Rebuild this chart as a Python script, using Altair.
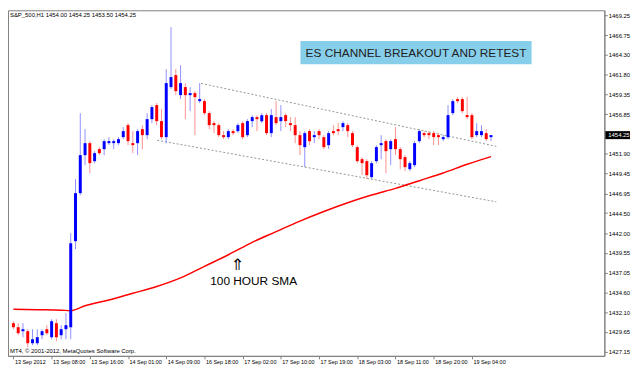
import altair as alt
import pandas as pd

# ---------------- data ----------------
bar = list(range(101))
open_ = [1430.75, 1430.25, 1429.75, 1429.75, 1428.25, 1428.25, 1429.25, 1430.00, 1429.00, 1430.75,
         1429.25, 1430.00, 1430.25, 1441.00, 1447.00, 1451.75, 1453.25, 1451.00, 1452.50, 1452.50,
         1453.25, 1453.25, 1453.25, 1454.00, 1455.50, 1453.25, 1453.25, 1455.00, 1454.25, 1456.25,
         1458.00, 1456.00, 1454.00, 1460.25, 1461.75, 1459.25, 1460.25, 1459.25, 1459.50, 1458.50,
         1458.50, 1457.00, 1455.75, 1455.50, 1454.25, 1454.00, 1454.75, 1454.75, 1455.75, 1454.25,
         1456.00, 1456.50, 1456.00, 1456.75, 1454.50, 1456.50, 1456.00, 1456.75, 1455.75, 1455.50,
         1454.25, 1452.75, 1454.75, 1454.00, 1454.75, 1454.00, 1453.00, 1454.75, 1455.00, 1455.25,
         1455.50, 1454.50, 1452.75, 1451.25, 1451.00, 1449.00, 1451.00, 1453.00, 1453.50, 1452.50,
         1453.75, 1452.50, 1451.50, 1450.00, 1450.50, 1453.50, 1454.50, 1454.50, 1454.50, 1454.25,
         1453.75, 1454.00, 1457.00, 1458.75, 1458.75, 1456.75, 1456.75, 1454.25, 1454.25, 1454.50,
         1454.00]
high = [1431.00, 1430.75, 1430.75, 1430.00, 1430.00, 1430.00, 1430.00, 1430.50, 1431.25, 1431.25,
        1430.50, 1432.00, 1442.00, 1448.75, 1457.00, 1455.00, 1453.50, 1452.25, 1452.75, 1453.75,
        1454.00, 1453.75, 1454.00, 1455.25, 1455.75, 1454.75, 1455.00, 1455.50, 1457.00, 1458.00,
        1458.25, 1457.50, 1462.50, 1467.75, 1462.50, 1463.00, 1460.75, 1460.25, 1459.75, 1460.75,
        1458.75, 1457.25, 1456.00, 1455.75, 1454.75, 1455.00, 1455.00, 1455.75, 1456.00, 1456.25,
        1456.75, 1456.75, 1457.00, 1457.00, 1457.50, 1458.50, 1458.00, 1457.00, 1456.50, 1456.50,
        1454.75, 1454.75, 1455.00, 1454.75, 1455.00, 1454.25, 1454.75, 1455.50, 1455.75, 1456.00,
        1455.75, 1454.75, 1453.00, 1451.50, 1451.25, 1451.00, 1453.00, 1454.25, 1453.75, 1453.75,
        1455.25, 1452.75, 1451.75, 1451.00, 1453.50, 1455.00, 1454.75, 1454.75, 1454.75, 1454.50,
        1454.25, 1458.00, 1458.75, 1459.00, 1459.00, 1459.00, 1457.00, 1455.75, 1455.50, 1455.00,
        1454.25]
low = [1430.00, 1429.25, 1429.00, 1427.75, 1428.00, 1428.00, 1428.75, 1429.25, 1428.75, 1428.50,
       1428.75, 1428.75, 1428.75, 1440.00, 1446.75, 1450.50, 1449.50, 1450.75, 1451.75, 1451.75,
       1453.00, 1452.50, 1453.00, 1453.75, 1453.00, 1452.00, 1451.75, 1452.50, 1453.75, 1455.75,
       1455.50, 1453.75, 1453.25, 1460.00, 1459.25, 1458.75, 1456.25, 1457.25, 1454.25, 1458.25,
       1456.75, 1455.00, 1454.50, 1454.00, 1453.75, 1453.75, 1454.25, 1454.50, 1453.75, 1454.00,
       1455.25, 1454.75, 1455.75, 1454.25, 1454.00, 1455.50, 1454.75, 1455.25, 1454.75, 1453.25,
       1451.75, 1450.25, 1453.00, 1453.25, 1453.75, 1452.50, 1452.50, 1454.25, 1454.25, 1454.75,
       1454.00, 1452.75, 1450.75, 1449.25, 1448.75, 1448.75, 1450.75, 1451.25, 1449.50, 1450.50,
       1451.75, 1450.00, 1449.75, 1449.75, 1450.25, 1453.25, 1454.00, 1453.75, 1453.00, 1453.00,
       1453.50, 1453.75, 1456.75, 1458.25, 1457.00, 1456.25, 1453.75, 1454.00, 1454.00, 1453.50,
       1453.50]
close = [1430.25, 1429.50, 1430.00, 1428.25, 1428.75, 1429.00, 1429.75, 1429.50, 1431.00, 1429.00,
         1430.00, 1430.50, 1440.75, 1447.00, 1451.75, 1453.25, 1450.75, 1452.00, 1452.00, 1453.50,
         1453.50, 1453.50, 1453.75, 1454.75, 1453.50, 1453.00, 1454.75, 1454.25, 1456.25, 1457.75,
         1456.00, 1454.00, 1460.75, 1461.50, 1459.75, 1460.75, 1459.25, 1459.50, 1459.00, 1458.75,
         1457.00, 1455.50, 1455.50, 1454.25, 1454.00, 1454.75, 1454.50, 1455.50, 1454.00, 1456.00,
         1456.50, 1456.25, 1456.75, 1454.50, 1456.75, 1455.75, 1456.50, 1456.00, 1455.50, 1454.25,
         1453.00, 1454.50, 1453.50, 1454.25, 1454.25, 1452.75, 1454.50, 1454.50, 1454.75, 1455.75,
         1454.75, 1453.00, 1451.00, 1450.75, 1449.25, 1450.75, 1452.75, 1453.25, 1452.25, 1453.50,
         1452.50, 1451.25, 1450.25, 1450.75, 1453.25, 1454.75, 1454.25, 1454.25, 1454.00, 1454.00,
         1454.00, 1456.75, 1458.50, 1458.50, 1457.25, 1456.50, 1454.00, 1454.75, 1454.75, 1453.75,
         1454.25]

sma_bar = [0, 5, 10, 12, 15, 20, 25, 30, 35, 40, 45, 50, 55, 60, 65, 70, 75, 80, 85, 90, 95, 100]
sma_val = [1432.50, 1432.44, 1432.38, 1432.32, 1432.93, 1433.65, 1434.49, 1435.33, 1436.41, 1437.86,
           1439.30, 1440.86, 1442.19, 1443.51, 1444.71, 1445.80, 1446.76, 1447.60, 1448.56, 1449.52,
           1450.61, 1451.57]

channel_name = ["upper", "upper", "lower", "lower"]
channel_bar = [39.3, 101.1, 30.1, 101.1]
channel_val = [1460.71, 1452.85, 1453.61, 1445.92]

y_ticks = [1469.25, 1466.75, 1464.30, 1461.80, 1459.35, 1456.85, 1451.90, 1449.45, 1446.95,
           1444.50, 1442.00, 1439.55, 1437.05, 1434.60, 1432.10, 1429.65, 1427.15]
x_tick_bars = [0, 8, 16, 24, 32, 40, 48, 56, 64, 72, 80, 88, 96]
x_tick_labels = ["13 Sep 2012", "13 Sep 08:00", "13 Sep 16:00", "14 Sep 01:00", "14 Sep 09:00",
                 "16 Sep 18:00", "17 Sep 02:00", "17 Sep 10:00", "17 Sep 19:00", "18 Sep 03:00",
                 "18 Sep 11:00", "18 Sep 20:00", "19 Sep 04:00"]

last_price = 1454.25
header_text = "S&P_500,H1  1454.00 1454.25 1453.50 1454.25"
footer_text = "MT4, \u00a9 2001-2012, MetaQuotes Software Corp."
title_text = "ES CHANNEL BREAKOUT AND RETEST"
title_box = {"x1": 60.1, "x2": 108.5, "y1": 1466.00, "y2": 1463.11}
sma_label = {"bar": 50.3, "value": 1436.05, "text": "100 HOUR SMA"}
arrow_label = {"bar": 46.9, "value": 1438.05, "text": "\u21d1"}

# ---------------- chart ----------------
W, H = 604, 350
FONT = "Liberation Sans"
xs = alt.Scale(domain=[-0.1, 122.7], nice=False, zero=False)
ys = alt.Scale(domain=[1426.67, 1469.85], nice=False, zero=False)

label_array = "[" + ",".join("'%s'" % s for s in x_tick_labels) + "]"
xaxis = alt.Axis(values=x_tick_bars, labelExpr=label_array + "[round(datum.value/8)]",
                 title=None, grid=False, orient="bottom", tickSize=3, labelAlign="left",
                 labelPadding=1, labelFontSize=5.5, labelFont=FONT, labelColor="#000000",
                 labelOffset=1, tickColor="#808080", domainColor="#808080", labelOverlap=False,
                 labelBound=False, labelFlush=False)
yaxis = alt.Axis(values=y_ticks, format=".2f", title=None, grid=False, orient="right",
                 tickSize=3, labelPadding=1, labelFontSize=6, labelFont=FONT,
                 labelColor="#000000", tickColor="#808080", domainColor="#808080",
                 labelOverlap=False, labelBound=False, labelFlush=False)


def X(f):
    return alt.X(f, type="quantitative", scale=xs, axis=xaxis)


def Y(f):
    return alt.Y(f, type="quantitative", scale=ys, axis=yaxis)


df = pd.DataFrame({"bar": bar, "open": open_, "high": high, "low": low, "close": close})
is_up = "datum.close >= datum.open"

wicks = alt.Chart(df).mark_rule(strokeWidth=1).encode(
    x=X("bar"), y=Y("low"), y2="high",
    color=alt.condition(is_up, alt.value("#8f8fff"), alt.value("#ff8f8f")))
bodies = alt.Chart(df).mark_bar(size=3).encode(
    x=X("bar"), y=Y("open"), y2="close",
    color=alt.condition(is_up, alt.value("#0000ff"), alt.value("#ff0000")))

sma = alt.Chart(pd.DataFrame({"bar": sma_bar, "value": sma_val})).mark_line(
    color="#ff0000", strokeWidth=1.5, interpolate="monotone").encode(x=X("bar"), y=Y("value"))

channel = alt.Chart(pd.DataFrame({"bar": channel_bar, "value": channel_val, "line": channel_name})).mark_line(
    color="#8a9a8a", strokeWidth=1, strokeDash=[2, 2]).encode(
    x=X("bar"), y=Y("value"), detail="line:N")

box = alt.Chart(pd.DataFrame([title_box])).mark_rect(color="#87ceeb").encode(
    x=X("x1"), x2="x2", y=Y("y1"), y2="y2")
box_text = alt.Chart(pd.DataFrame([{"bar": (title_box["x1"] + title_box["x2"]) / 2,
                                    "value": (title_box["y1"] + title_box["y2"]) / 2,
                                    "text": title_text}])).mark_text(
    font=FONT, fontSize=12, color="#222222", align="center", baseline="middle").encode(
    x=X("bar"), y=Y("value"), text="text")

sma_text = alt.Chart(pd.DataFrame([sma_label])).mark_text(
    font=FONT, fontSize=12, color="#000000", align="center", baseline="middle").encode(
    x=X("bar"), y=Y("value"), text="text")
arrow_text = alt.Chart(pd.DataFrame([arrow_label])).mark_text(
    font="DejaVu Sans", fontSize=16, color="#000000", align="center", baseline="middle").encode(
    x=X("bar"), y=Y("value"), text="text")

price_df = pd.DataFrame([{"value": last_price, "lo": last_price - 0.5, "hi": last_price + 0.5,
                          "label": "%.2f" % last_price}])
price_box = alt.Chart(price_df).mark_rect(color="#000000").encode(
    x=alt.value(W + 1), x2=alt.value(W + 26), y=Y("lo"), y2="hi")
price_text = alt.Chart(price_df).mark_text(
    font=FONT, fontSize=6, color="#ffffff", align="left", baseline="middle").encode(
    x=alt.value(W + 4), y=Y("value"), text="label")

header = alt.Chart(pd.DataFrame({"t": [header_text]})).mark_text(
    font=FONT, fontSize=6, color="#000000", align="left", baseline="top").encode(
    x=alt.value(2), y=alt.value(2), text="t")
footer = alt.Chart(pd.DataFrame({"t": [footer_text]})).mark_text(
    font=FONT, fontSize=6, color="#000000", align="left", baseline="bottom").encode(
    x=alt.value(2), y=alt.value(H - 2), text="t")

chart = alt.layer(
    box, box_text, channel, sma, wicks, bodies, sma_text, arrow_text,
    price_box, price_text, header, footer
).properties(
    width=W, height=H,
    padding={"left": 0, "top": 0, "right": 28, "bottom": 12},
    autosize=alt.AutoSizeParams(type="none"),
    background="#ffffff",
).configure_view(stroke="#808080", strokeWidth=1)

chart.save("out.html", embed_options={"renderer": "svg", "actions": False})
